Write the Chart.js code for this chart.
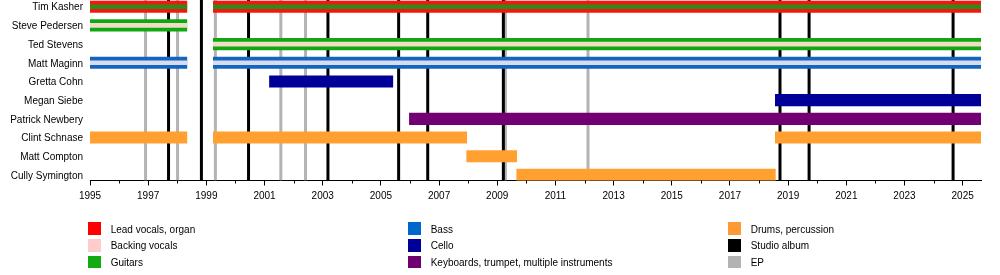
<!DOCTYPE html>
<html><head><meta charset="utf-8">
<script src="https://cdn.jsdelivr.net/npm/chart.js@4/dist/chart.umd.min.js"></script>
<style>
html,body{margin:0;padding:0;background:#fff;}
#wrap{position:relative;width:1000px;height:275px;overflow:hidden;}
#c{position:absolute;left:0;top:0;}
.lg{position:absolute;font-family:"Liberation Sans",Arial,sans-serif;font-size:10px;color:#000;white-space:nowrap;line-height:12.5px;}
.sw{position:absolute;width:13px;height:12.5px;}
</style></head><body>
<div id="wrap"><canvas id="c" width="1000" height="275"></canvas></div>
<script>
// ---------- data ----------
const members = ['Tim Kasher','Steve Pedersen','Ted Stevens','Matt Maginn','Gretta Cohn','Megan Siebe','Patrick Newbery','Clint Schnase','Matt Compton','Cully Symington'];
const START = 1995;
const END = 2025.63;
const leadVocals = [['Tim Kasher',1995,1998.33],['Tim Kasher',1999.24,END]];
const guitarsSecond = [['Tim Kasher',1995,1998.33],['Tim Kasher',1999.24,END]];
const guitars = [['Steve Pedersen',1995,1998.33],['Ted Stevens',1999.24,END]];
const backingVocals = [['Steve Pedersen',1995,1998.33],['Ted Stevens',1999.24,END],['Matt Maginn',1995,1998.33],['Matt Maginn',1999.24,END]];
const bass = [['Matt Maginn',1995,1998.33],['Matt Maginn',1999.24,END]];
const cello = [['Gretta Cohn',2001.17,2005.41],['Megan Siebe',2018.56,END]];
const keyboards = [['Patrick Newbery',2005.98,END]];
const drums = [['Clint Schnase',1995,1998.33],['Clint Schnase',1999.24,2007.95],['Clint Schnase',2018.56,END],['Matt Compton',2007.95,2009.67],['Cully Symington',2009.67,2018.56]];
const studioAlbums = [1997.70,1998.83,2000.45,2003.18,2005.61,2006.61,2009.21,2018.72,2019.72,2024.67];
const eps = [1996.91,1998.01,1999.31,2001.56,2002.41,2009.28,2012.12];
const legendLabels = ['Lead vocals, organ','Backing vocals','Guitars','Bass','Cello','Keyboards, trumpet, multiple instruments','Drums, percussion','Studio album','EP'];

// ---------- styles ----------
const C = {red:'#f5170c',green:'#10a810',blue:'#1565c0',dblue:'#000099',purple:'#730073',orange:'#ffa030',black:'#000000',grey:'#b3b3b3'};
const legendColors = ['#ff0000','#ffcccc','#11aa11','#0066cc','#000099','#6f006f','#ff9933','#000000','#b3b3b3'];
const Y_MIN = -0.36, Y_MAX = 9.30;
const MAIN = 11.5, STRIPE = 4;

function bars(arr){ return arr.map(([m,s,e]) => ({x:[s,e], y:members.indexOf(m)})); }
function vlines(years){
  const pts = [];
  years.forEach(v => { pts.push({x:v,y:Y_MIN},{x:v,y:Y_MAX},{x:null,y:null}); });
  return pts;
}
function barDs(label, arr, color, thick, order){
  return {type:'bar', label, data:bars(arr), backgroundColor:color, barThickness:thick, stack:'all', borderWidth:0, borderSkipped:false, order};
}

const datasets = [
  barDs('Guitars (secondary)', guitarsSecond, '#2b8c1d', STRIPE, 1),
  barDs('Backing vocals', backingVocals, ctx => {
    const r = ctx.raw && members[ctx.raw.y];
    return (bass.some(b => b[0] === r)) ? '#d8dcef' : '#f1dcc6';
  }, STRIPE, 1),
  barDs('Lead vocals, organ', leadVocals, C.red, MAIN, 2),
  barDs('Guitars', guitars, C.green, MAIN, 2),
  barDs('Bass', bass, C.blue, MAIN, 2),
  barDs('Cello', cello, C.dblue, MAIN, 2),
  barDs('Keyboards, trumpet, multiple instruments', keyboards, C.purple, MAIN, 2),
  barDs('Drums, percussion', drums, C.orange, MAIN, 2),
  {type:'line', label:'Studio album', data:vlines(studioAlbums), borderColor:C.black, borderWidth:3, pointRadius:0, tension:0, spanGaps:false, order:5},
  {type:'line', label:'EP', data:vlines(eps), borderColor:C.grey, borderWidth:3, pointRadius:0, tension:0, spanGaps:false, order:6}
];

const minorTicks = {
  id:'minorTicks',
  afterDraw(chart){
    const xs = chart.scales.x, ctx = chart.ctx;
    ctx.save();
    ctx.strokeStyle = '#000'; ctx.lineWidth = 1;
    xs.ticks.forEach(t => {
      if (t.value % 2 === 0) {
        const px = Math.round(xs.getPixelForValue(t.value)) + 0.5;
        ctx.beginPath(); ctx.moveTo(px, xs.top); ctx.lineTo(px, xs.top + 3); ctx.stroke();
      }
    });
    ctx.restore();
  }
};

const FONT = {family:'"Liberation Sans", Arial, sans-serif', size:10};

new Chart(document.getElementById('c'), {
  type:'bar',
  data:{datasets},
  options:{
    indexAxis:'y',
    responsive:false,
    animation:false,
    devicePixelRatio:1,
    layout:{padding:{left:0,right:19,top:0,bottom:0}},
    plugins:{legend:{display:false}, tooltip:{enabled:false}},
    scales:{
      x:{
        type:'linear', position:'bottom', min:START, max:END, stacked:false,
        border:{display:true,color:'#000',width:1},
        grid:{drawOnChartArea:false, drawTicks:true, tickLength:5, tickColor: ctx => (ctx.tick && ctx.tick.value % 2 === 1) ? '#000' : 'rgba(0,0,0,0)'},
        ticks:{stepSize:1, includeBounds:false, autoSkip:false, maxRotation:0, color:'#000', font:FONT, padding:5,
          callback: v => (v % 2 === 1) ? String(v) : ''},
        afterFit(s){ s.height = 275 - 180.5; s.paddingLeft = 0; s.paddingRight = 0; }
      },
      y:{
        type:'linear', position:'left', reverse:true, min:Y_MIN, max:Y_MAX, offset:false,
        border:{display:false},
        grid:{display:false, drawTicks:false, offset:false},
        ticks:{autoSkip:false, color:'#000', font:FONT, padding:7, labelOffset:1, callback: v => members[v] || ''},
        afterBuildTicks(s){ s.ticks = members.map((_, i) => ({value:i})); },
        afterFit(s){ s.width = 90; s.paddingTop = 0; s.paddingBottom = 0; }
      }
    }
  },
  plugins:[minorTicks]
});

// legend
const wrap = document.getElementById('wrap');
const colX = [88, 408, 728], rowY = [222.3, 239, 255.7];
legendLabels.forEach((lab, i) => {
  const c = Math.floor(i / 3), r = i % 3;
  const sw = document.createElement('div');
  sw.className = 'sw'; sw.style.left = colX[c] + 'px'; sw.style.top = rowY[r] + 'px'; sw.style.background = legendColors[i];
  wrap.appendChild(sw);
  const t = document.createElement('div');
  t.className = 'lg'; t.style.left = (colX[c] + 22.7) + 'px'; t.style.top = (rowY[r] + 1.3) + 'px'; t.textContent = lab;
  wrap.appendChild(t);
});
</script>
</body></html>
